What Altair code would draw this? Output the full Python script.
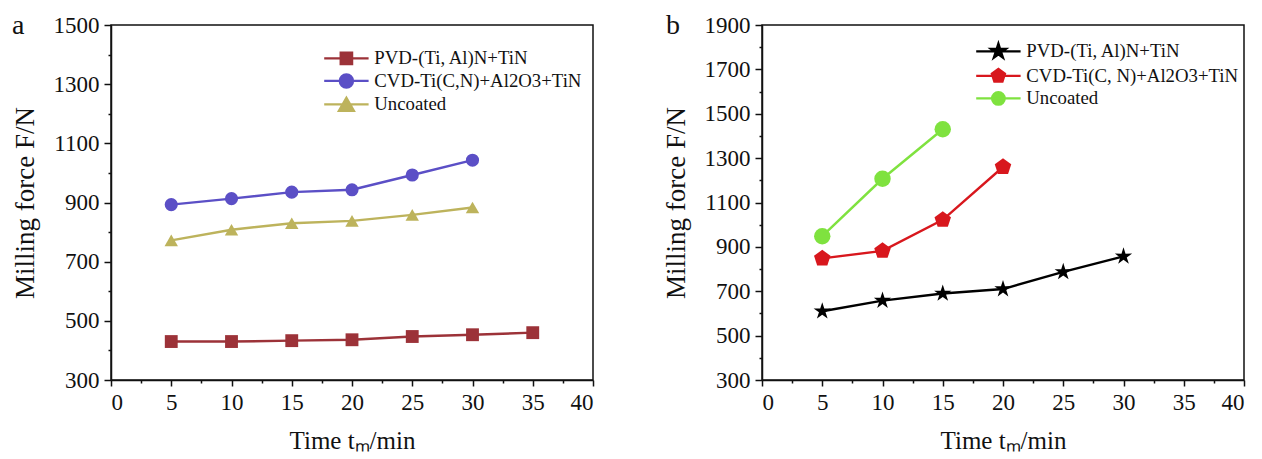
import altair as alt
import pandas as pd

# ---------------- data ----------------
series_a = ["PVD-(Ti, Al)N+TiN", "CVD-Ti(C,N)+Al2O3+TiN", "Uncoated"]
time_a_pvd = [5, 10, 15, 20, 25, 30, 35]
force_a_pvd = [430, 430, 433, 436, 447, 453, 460]
time_a_cvd = [5, 10, 15, 20, 25, 30]
force_a_cvd = [893, 913, 935, 943, 993, 1043]
time_a_unc = [5, 10, 15, 20, 25, 30]
force_a_unc = [772, 808, 830, 838, 858, 883]

series_b = ["PVD-(Ti, Al)N+TiN", "CVD-Ti(C, N)+Al2O3+TiN", "Uncoated"]
time_b_pvd = [5, 10, 15, 20, 25, 30]
force_b_pvd = [610, 658, 690, 710, 787, 857]
time_b_cvd = [5, 10, 15, 20]
force_b_cvd = [848, 882, 1022, 1260]
time_b_unc = [5, 10, 15]
force_b_unc = [948, 1207, 1430]

x_ticks = [i * 2.5 for i in range(17)]
y_ticks_a = list(range(300, 1501, 100))
y_ticks_b = list(range(300, 1901, 100))

colors_a = ["#9c3238", "#5b4fc6", "#bdb35c"]
colors_b = ["#000000", "#d8171d", "#7fe23f"]

FONT = "Liberation Serif"

# ---------------- marker shapes ----------------
def square(s):
    return f"M{-s},{-s}L{s},{-s}L{s},{s}L{-s},{s}Z"

def circle(r):
    return f"M{-r},0A{r},{r} 0 1,0 {r},0A{r},{r} 0 1,0 {-r},0Z"

def triangle(r):
    h = 0.866 * r
    return f"M0,{-h}L{-r},{h}L{r},{h}Z"

def pentagon(r):
    pts = [(0, -1), (0.951, -0.309), (0.588, 0.809), (-0.588, 0.809), (-0.951, -0.309)]
    return "M" + "L".join(f"{x*r:.3f},{y*r:.3f}" for x, y in pts) + "Z"

def star(r):
    pts = [(0, -1), (0.223, -0.307), (0.951, -0.309), (0.361, 0.117), (0.588, 0.809),
           (0, 0.38), (-0.588, 0.809), (-0.361, 0.117), (-0.951, -0.309), (-0.223, -0.307)]
    return "M" + "L".join(f"{x*r:.3f},{y*r:.3f}" for x, y in pts) + "Z"

LINE = "M-3.7,0L3.7,0"

shapes_a = ["square", "circle", "triangle-up"]
sizes_a = [165, 180, 250]
legend_shapes_a = [LINE + square(0.95), LINE + circle(1.1), LINE + triangle(1.25)]

shapes_b = [star(1.0), pentagon(1.0), "circle"]
sizes_b = [330, 270, 180]
legend_shapes_b = [LINE + star(1.3), LINE + pentagon(1.15), LINE + circle(1.05)]


def long_df(names, times, forces):
    rows = []
    for n, t, f in zip(names, times, forces):
        for ti, fi in zip(t, f):
            rows.append({"series": n, "time": ti, "force": fi})
    return pd.DataFrame(rows)


def panel(names, times, forces, colors, shapes, sizes, legend_shapes, y_ticks,
          letter, letter_x, letter_y, leg_x, leg_y):
    df = long_df(names, times, forces)
    ymin, ymax = y_ticks[0], y_ticks[-1]
    x_axis = alt.Axis(
        values=x_ticks,
        labelExpr="datum.value % 5 === 0 ? format(datum.value, 'd') : ''",
        tickSize={"condition": {"test": "datum.value % 5 === 0", "value": 6}, "value": 3},
        title="Time tₘ/min",
        grid=False,
    )
    y_axis = alt.Axis(
        values=y_ticks,
        labelExpr=f"(datum.value - {ymin}) % 200 === 0 ? format(datum.value, 'd') : ''",
        tickSize={"condition": {"test": f"(datum.value - {ymin}) % 200 === 0", "value": 7}, "value": 3},
        title="Milling force F/N",
        grid=False,
    )
    x = alt.X("time:Q", scale=alt.Scale(domain=[0, 40], nice=False, zero=False), axis=x_axis)
    y = alt.Y("force:Q", scale=alt.Scale(domain=[ymin, ymax], nice=False, zero=False), axis=y_axis)
    color = alt.Color("series:N", scale=alt.Scale(domain=names, range=colors), legend=None)

    base = alt.Chart(df)
    lines = base.mark_line(strokeWidth=2.4).encode(x=x, y=y, color=color, detail="series:N")
    points = base.mark_point(filled=True, opacity=1, strokeWidth=1).encode(
        x=x, y=y, color=color,
        shape=alt.Shape("series:N", scale=alt.Scale(domain=names, range=shapes), legend=None),
        size=alt.Size("series:N", scale=alt.Scale(domain=names, range=sizes), legend=None),
    )
    legend = alt.Legend(
        title=None, orient="none", legendX=leg_x, legendY=leg_y,
        symbolSize=144, symbolStrokeWidth=2.3, labelFont=FONT, labelFontSize=18.8,
        labelColor="#111111", labelOffset=18.5, rowPadding=0.5, padding=0, labelLimit=400,
    )
    leg = base.mark_point(filled=True, opacity=1).encode(
        x=x, y=y,
        fill=alt.Fill("series:N", scale=alt.Scale(domain=names, range=colors), legend=legend),
        stroke=alt.Stroke("series:N", scale=alt.Scale(domain=names, range=colors), legend=legend),
        shape=alt.Shape("series:N", scale=alt.Scale(domain=names, range=legend_shapes), legend=legend),
    ).transform_filter("false")
    label = alt.Chart(pd.DataFrame({"t": [letter]})).mark_text(
        font=FONT, fontSize=28, align="left", baseline="alphabetic", color="#111111"
    ).encode(text="t:N", x=alt.value(letter_x), y=alt.value(letter_y))

    return alt.layer(lines, points, leg, label).resolve_scale(
        shape="independent", fill="independent", stroke="independent"
    ).properties(width=482, height=355)


left = panel(series_a, [time_a_pvd, time_a_cvd, time_a_unc], [force_a_pvd, force_a_cvd, force_a_unc],
             colors_a, shapes_a, sizes_a, legend_shapes_a, y_ticks_a, "a", -99, 9, 226, 24)
right = panel(series_b, [time_b_pvd, time_b_cvd, time_b_unc], [force_b_pvd, force_b_cvd, force_b_unc],
              colors_b, shapes_b, sizes_b, legend_shapes_b, y_ticks_b, "b", -96, 9, 227, 17)

chart = alt.hconcat(left, right, spacing=66).resolve_scale(
    color="independent", shape="independent", size="independent",
    fill="independent", stroke="independent",
).properties(
    padding={"left": 2, "top": 3, "right": 0, "bottom": 0}
).configure_view(stroke="#111111", strokeWidth=1.5).configure_axis(
    domainColor="#111111", domainWidth=1.5, tickColor="#111111", tickWidth=1.5,
    labelFont=FONT, labelFontSize=23, labelColor="#111111", labelPadding=5,
    titleFont=FONT, titleFontWeight="normal", titleColor="#111111",
).configure_axisX(titleFontSize=25, titlePadding=14).configure_axisY(
    titleFontSize=27, titlePadding=14
)

chart.save("out.html", embed_options={"renderer": "svg", "actions": False})
